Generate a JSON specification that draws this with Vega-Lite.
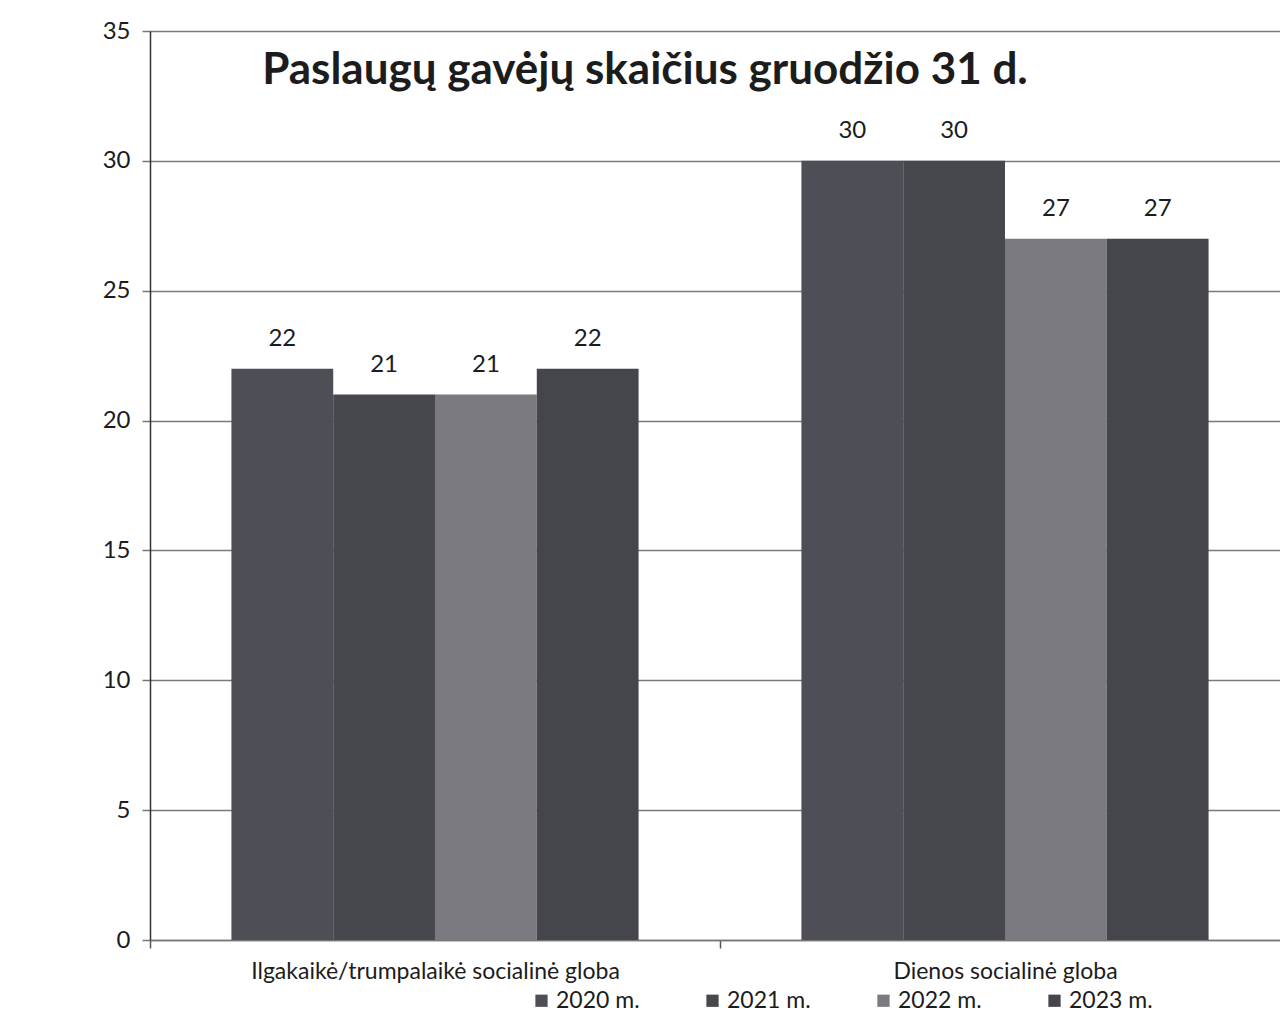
{
  "$schema": "https://vega.github.io/schema/vega-lite/v6.json",
  "autosize": "none",
  "width": 1130,
  "height": 909,
  "padding": {"left": 150, "top": 31, "right": 0, "bottom": 88},
  "background": "white",
  "title": {
    "text": "Paslaugų gavėjų skaičius gruodžio 31 d.",
    "font": "Lato",
    "fontSize": 44,
    "fontWeight": "bold",
    "color": "#1c1c1c",
    "anchor": "middle",
    "baseline": "middle",
    "offset": 0,
    "dx": -70,
    "dy": 96
  },
  "data": {
    "values": [
      {"category": "Ilgakaikė/trumpalaikė socialinė globa", "year": "2020 m.", "value": 22},
      {"category": "Ilgakaikė/trumpalaikė socialinė globa", "year": "2021 m.", "value": 21},
      {"category": "Ilgakaikė/trumpalaikė socialinė globa", "year": "2022 m.", "value": 21},
      {"category": "Ilgakaikė/trumpalaikė socialinė globa", "year": "2023 m.", "value": 22},
      {"category": "Dienos socialinė globa", "year": "2020 m.", "value": 30},
      {"category": "Dienos socialinė globa", "year": "2021 m.", "value": 30},
      {"category": "Dienos socialinė globa", "year": "2022 m.", "value": 27},
      {"category": "Dienos socialinė globa", "year": "2023 m.", "value": 27}
    ]
  },
  "encoding": {
    "x": {
      "field": "category",
      "type": "nominal",
      "sort": null,
      "scale": {"range": [0, 1140], "paddingInner": 0, "paddingOuter": 0},
      "axis": {
        "title": null,
        "labelAngle": 0,
        "labelLimit": 0,
        "labelFont": "Lato",
        "labelFontSize": 23,
        "labelColor": "#1c1c1c",
        "labelPadding": 12,
        "tickBand": "extent",
        "tickSize": 8,
        "tickColor": "#555",
        "tickWidth": 1.5,
        "domainColor": "#777",
        "domainWidth": 1.5,
        "grid": false
      }
    },
    "xOffset": {
      "field": "year",
      "type": "nominal",
      "sort": null,
      "scale": {"paddingInner": 0, "paddingOuter": 0.8}
    },
    "y": {
      "field": "value",
      "type": "quantitative",
      "scale": {"domain": [0, 35], "nice": false},
      "axis": {
        "title": null,
        "values": [0, 5, 10, 15, 20, 25, 30, 35],
        "labelFont": "Lato",
        "labelFontSize": 24,
        "labelColor": "#1c1c1c",
        "labelPadding": 12,
        "tickSize": 8,
        "tickColor": "#777",
        "tickWidth": 1.5,
        "domainColor": "#333",
        "domainWidth": 1.5,
        "grid": true,
        "gridColor": "#7a7a7a",
        "gridWidth": 1.5
      }
    }
  },
  "layer": [
    {
      "mark": {"type": "bar"},
      "encoding": {
        "color": {
          "field": "year",
          "type": "nominal",
          "sort": null,
          "scale": {
            "domain": ["2020 m.", "2021 m.", "2022 m.", "2023 m."],
            "range": ["#4e4e56", "#47474e", "#7a7a80", "#45454c"]
          },
          "legend": {
            "title": null,
            "orient": "none",
            "direction": "horizontal",
            "legendX": 380,
            "legendY": 958,
            "symbolType": "square",
            "symbolSize": 150,
            "symbolStrokeWidth": 0,
            "labelFont": "Lato",
            "labelFontSize": 23,
            "labelColor": "#1c1c1c",
            "labelOffset": 3,
            "columnPadding": 61
          }
        }
      }
    },
    {
      "mark": {"type": "text", "baseline": "middle", "dy": -30, "font": "Lato", "fontSize": 24, "color": "#1c1c1c"},
      "encoding": {
        "text": {"field": "value", "type": "quantitative"}
      }
    }
  ],
  "config": {
    "view": {"stroke": null}
  }
}
